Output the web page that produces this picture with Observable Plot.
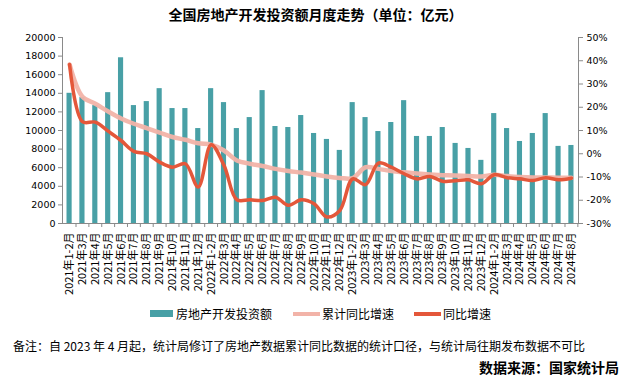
<!DOCTYPE html>
<html>
<head>
<meta charset="utf-8">
<script src="https://cdn.jsdelivr.net/npm/d3@7"></script>
<script src="https://cdn.jsdelivr.net/npm/@observablehq/plot@0.6"></script>
<style>
  html, body { margin: 0; padding: 0; background: #fff; }
  body { width: 631px; height: 380px; position: relative; overflow: hidden; font-family: "Noto Sans CJK SC", sans-serif; }
  .abs { position: absolute; white-space: nowrap; color: #000; }
  #title { left: 0; width: 631px; top: 4px; text-align: center; font-size: 14px; font-weight: bold; }
  #chart { position: absolute; left: 0; top: 0; }
  .legtxt { font-size: 12px; top: 305px; }
  .sw { position: absolute; }
  #note { left: 13px; top: 337px; font-size: 12px; }
  #src { right: 12px; top: 357px; font-size: 14px; font-weight: bold; }
</style>
</head>
<body>
<div id="chart"></div>
<div id="title" class="abs">全国房地产开发投资额月度走势（单位：亿元）</div>
<div class="sw" style="left:150px;top:310px;width:23px;height:7px;background:#48a0a6"></div>
<div class="abs legtxt" style="left:176px">房地产开发投资额</div>
<div class="sw" style="left:293px;top:312px;width:27px;height:4px;background:#f2b3a8"></div>
<div class="abs legtxt" style="left:322px">累计同比增速</div>
<div class="sw" style="left:414px;top:312px;width:27px;height:4px;background:#e4573a"></div>
<div class="abs legtxt" style="left:443px">同比增速</div>
<div id="note" class="abs">备注：自 2023 年 4 月起，统计局修订了房地产数据累计同比数据的统计口径，与统计局往期发布数据不可比</div>
<div id="src" class="abs">数据来源：国家统计局</div>
<script>
const categories = [
  "2021年1-2月","2021年3月","2021年4月","2021年5月","2021年6月","2021年7月","2021年8月","2021年9月","2021年10月","2021年11月","2021年12月",
  "2022年1-2月","2022年3月","2022年4月","2022年5月","2022年6月","2022年7月","2022年8月","2022年9月","2022年10月","2022年11月","2022年12月",
  "2023年1-2月","2023年3月","2023年4月","2023年5月","2023年6月","2023年7月","2023年8月","2023年9月","2023年10月","2023年11月","2023年12月",
  "2024年1-2月","2024年3月","2024年4月","2024年5月","2024年6月","2024年7月","2024年8月"
];
const investment = [
  14000,13540,12680,14070,17820,12680,13110,14500,12360,12360,10210,
  14500,13000,10210,11390,14290,10430,10320,11610,9680,9040,7860,
  13000,11390,9890,10860,13210,9360,9360,10320,8610,8070,6790,
  11820,10210,8820,9680,11820,8290,8390
];
const cumulativeYoY = [
  38.4,24.5,21.5,18.2,15.2,12.9,11.0,9.1,7.2,6.0,4.5,
  3.9,1.4,-2.9,-4.3,-5.3,-6.5,-7.4,-8.1,-8.9,-9.8,-10.4,
  -10.5,-5.8,-6.5,-7.4,-8.0,-8.5,-8.9,-9.2,-9.4,-9.6,-9.8,
  -9.0,-9.6,-10.0,-10.2,-10.2,-10.3,-10.3
];
const monthlyYoY = [
  38.4,13.8,13.6,9.7,5.7,1.0,0.0,-3.6,-5.8,-4.3,-14.3,
  3.9,-5.0,-19.8,-19.8,-20.1,-18.7,-22.2,-19.8,-21.5,-27.2,
  -24.4,-10.8,-13.3,-4.0,-5.8,-8.6,-10.8,-9.8,-11.8,-11.6,-11.2,
  -12.9,-9.0,-10.3,-10.8,-11.5,-10.3,-11.2,-10.5
];
const leftTicks = [0,2000,4000,6000,8000,10000,12000,14000,16000,18000,20000];
const rightTicks = [-30,-20,-10,0,10,20,30,40,50];

// right axis (-30%..50%) mapped onto the left scale (0..20000)
const pctMin = -30, pctMax = 50, leftMax = 20000;
const toLeft = p => (p - pctMin) * leftMax / (pctMax - pctMin);
const fromLeft = v => Math.round(v * (pctMax - pctMin) / leftMax + pctMin);

const rows = categories.map((c, i) => ({
  cat: c, inv: investment[i], cum: toLeft(cumulativeYoY[i]), mon: toLeft(monthlyYoY[i])
}));

const W = 631, H = 300, mL = 62, mR = 53;
const step = (W - mL - mR) / (categories.length - 0.6 + 2 * 0.35);

const chart = Plot.plot({
  width: W, height: H,
  marginTop: 37, marginBottom: 77, marginLeft: mL, marginRight: mR,
  style: { fontFamily: "DejaVu Sans, sans-serif", fontSize: "9.5px", color: "#000", background: "transparent" },
  x: { type: "band", domain: categories, paddingInner: 0.6, paddingOuter: 0.35, axis: null },
  y: { domain: [0, leftMax], axis: null },
  marks: [
    Plot.barY(rows, { x: "cat", y: "inv", fill: "#48a0a6" }),
    Plot.line(rows, { x: "cat", y: "cum", stroke: "#f2b3a8", strokeWidth: 4.5, curve: "catmull-rom", strokeOpacity: 0.95 }),
    Plot.line(rows, { x: "cat", y: "mon", stroke: "#e4573a", strokeWidth: 3.5, curve: "catmull-rom" }),
    Plot.ruleY([0], { stroke: "#8a8a8a" }),
    Plot.frame({ anchor: "left", stroke: "#8a8a8a" }),
    Plot.frame({ anchor: "right", stroke: "#8a8a8a" }),
    Plot.axisY({ anchor: "left", ticks: leftTicks, tickFormat: d3.format("d"), tickSize: 4, tickPadding: 3, stroke: "#8a8a8a", label: null }),
    Plot.axisY({ anchor: "right", ticks: rightTicks.map(toLeft), tickFormat: v => `${fromLeft(v)}%`, tickSize: 4, tickPadding: 4, stroke: "#8a8a8a", label: null }),
    Plot.axisX({ anchor: "bottom", tickSize: 4, tickFormat: () => "", dx: step / 2, stroke: "#8a8a8a", label: null }),
    Plot.axisX({ anchor: "bottom", tickSize: 0, tickPadding: 9, tickRotate: -90, fontFamily: "Noto Sans CJK SC, sans-serif", fontSize: 11, label: null })
  ]
});
document.getElementById("chart").appendChild(chart);
</script>
</body>
</html>
